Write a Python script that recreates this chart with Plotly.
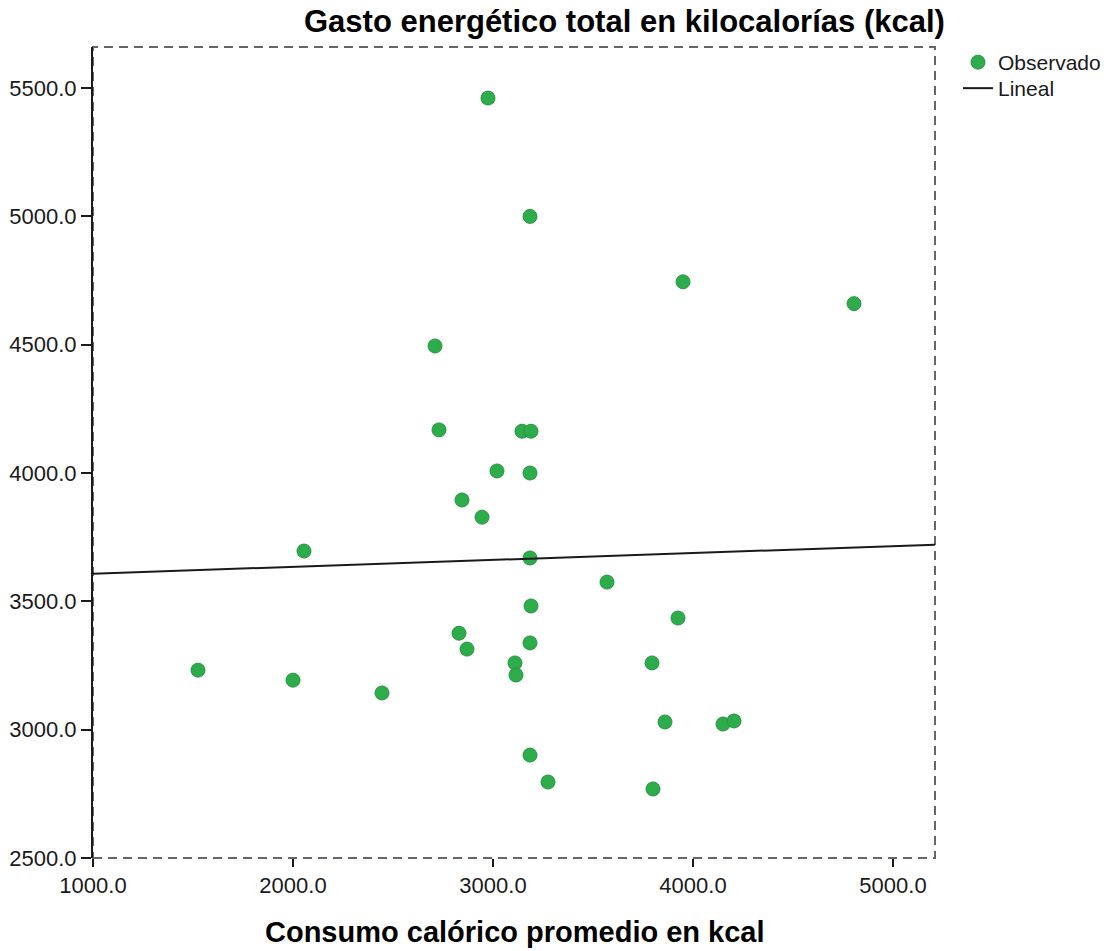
import numpy as np
import plotly.graph_objects as go

consumo = [2975, 3185, 3950, 4805, 2710, 2730, 3145, 3190, 3020, 3185, 2845,
           2945, 2055, 3185, 3570, 3190, 3925, 2830, 2870, 3185, 1525, 3110,
           3115, 3795, 2000, 2445, 3860, 4150, 4205, 3185, 3275, 3800]
gasto = [5461, 5000, 4745, 4660, 4495, 4168, 4163, 4163, 4008, 4000, 3895,
         3828, 3696, 3669, 3575, 3482, 3435, 3376, 3314, 3338, 3232, 3260,
         3213, 3260, 3193, 3143, 3030, 3022, 3034, 2901, 2796, 2769]

x_range = [1000, 5210]
y_range = [2500, 5660]
x_ticks = [1000, 2000, 3000, 4000, 5000]
y_ticks = [2500, 3000, 3500, 4000, 4500, 5000, 5500]

slope, intercept = np.polyfit(consumo, gasto, 1)
line_x = x_range
line_y = [intercept + slope * v for v in line_x]

W, H = 1115, 951
L, R, T, B = 93, 180, 47, 93
plot_w = W - L - R
plot_h = H - T - B


def px_x(p):
    return (p - L) / plot_w


def px_y(p):
    return 1 - (p - T) / plot_h


fig = go.Figure()
fig.add_trace(go.Scatter(
    x=consumo, y=gasto, mode="markers", name="Observado", legend="legend",
    marker=dict(size=14, color="#2eac4c", line=dict(color="#23983f", width=1)),
))
fig.add_trace(go.Scatter(
    x=line_x, y=line_y, mode="lines", name="Lineal", legend="legend2",
    line=dict(color="#1a1a1a", width=2),
))

font = "Liberation Sans, Arial, sans-serif"
leg_common = dict(xanchor="left", yanchor="top", bgcolor="rgba(0,0,0,0)",
                  font=dict(size=21, color="#1a1a1a"), itemwidth=30)
fig.update_layout(
    width=W, height=H,
    margin=dict(l=L, r=R, t=T, b=B, pad=0, autoexpand=False),
    paper_bgcolor="white", plot_bgcolor="white",
    font=dict(family=font, size=21, color="#1a1a1a"),
    showlegend=True,
    legend=dict(x=px_x(958), y=px_y(42), **leg_common),
    legend2=dict(x=px_x(958), y=px_y(68), **leg_common),
    xaxis=dict(range=x_range, tickvals=x_ticks, automargin=False,
               ticktext=[f"{v:.1f}" for v in x_ticks],
               showgrid=False, zeroline=False, showline=False,
               ticks="outside", ticklen=8, tickwidth=2, tickcolor="#1a1a1a",
               tickfont=dict(size=22)),
    yaxis=dict(range=y_range, tickvals=y_ticks, automargin=False,
               ticktext=[f"{v:.1f}" for v in y_ticks],
               showgrid=False, zeroline=False, showline=True,
               linecolor="#1a1a1a", linewidth=2,
               ticks="outside", ticklen=10, tickwidth=2, tickcolor="#1a1a1a",
               tickfont=dict(size=22)),
    shapes=[dict(type="rect", xref="paper", yref="paper", x0=0, x1=1, y0=0, y1=1,
                 line=dict(color="#666666", width=2, dash="9px,6px"), layer="below")],
    annotations=[
        dict(text="<b>Gasto energético total en kilocalorías (kcal)</b>",
             xref="paper", yref="paper",
             x=px_x(624), y=px_y(22),
             xanchor="center", yanchor="middle", showarrow=False,
             font=dict(size=31, family=font, color="#000000")),
        dict(text="<b>Consumo calórico promedio en kcal</b>",
             xref="paper", yref="paper",
             x=px_x(515), y=px_y(932),
             xanchor="center", yanchor="middle", showarrow=False,
             font=dict(size=29, family=font, color="#000000")),
    ],
)

fig.write_html(
    "out.html",
    config={"displayModeBar": False},
    post_script="document.body.style.margin='0';document.body.style.overflow='hidden';",
)
